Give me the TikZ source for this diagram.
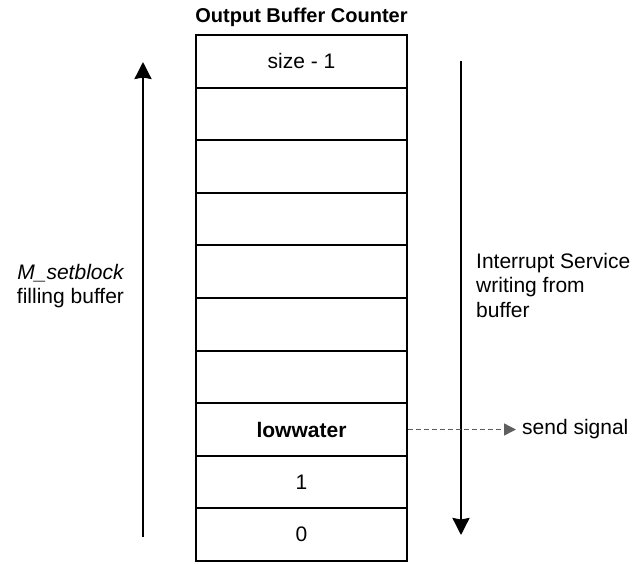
\documentclass[tikz,border=0pt]{standalone}
\usepackage{fontspec}
\setmainfont{Liberation Sans}
\usetikzlibrary{arrows.meta}
\definecolor{sigcol}{HTML}{5F5F5F}
\tikzset{
  cell/.style={draw, line width=2pt, minimum width=211pt, minimum height=52.6pt, inner sep=0pt, font=\fontsize{21}{25}\selectfont},
  lbl/.style={inner sep=0pt, font=\fontsize{21}{24.5}\selectfont},
  bigarrow/.style={line width=2.4pt, -{Stealth[width=17pt,length=17pt,inset=1.5pt]}},
  sigarrow/.style={draw=sigcol, line width=1.4pt, dash pattern=on 5pt off 3pt, -{Triangle[width=12pt,length=12pt]}, sigcol}
}
\begin{document}
\begin{tikzpicture}[x=1pt,y=-1pt]
\useasboundingbox (0,0) rectangle (637,563);
\node[lbl, font=\fontsize{20}{24}\selectfont\bfseries] (title) at (301.5,17) {Output Buffer Counter};
\node[cell] (r0) at (301.5,61.3) {size - 1};
\node[cell] (r1) at (301.5,113.9) {};
\node[cell] (r2) at (301.5,166.5) {};
\node[cell] (r3) at (301.5,219.1) {};
\node[cell] (r4) at (301.5,271.7) {};
\node[cell] (r5) at (301.5,324.3) {};
\node[cell] (r6) at (301.5,376.9) {};
\node[cell] (r7) at (301.5,429.5) {\bfseries lowwater};
\node[cell] (r8) at (301.5,482.1) {1};
\node[cell] (r9) at (301.5,534.7) {0};
\coordinate (la1) at (143,537);
\coordinate (la2) at (143,62);
\draw[bigarrow] (la1) -- (la2);
\coordinate (ra1) at (461,61);
\coordinate (ra2) at (461,535);
\draw[bigarrow] (ra1) -- (ra2);
\node[lbl, align=center] (lt) at (70.5,286) {\itshape M\_setblock\\filling buffer};
\node[lbl, align=left, anchor=west] (rt) at (476,285) {Interrupt Service\\writing from\\buffer};
\node[lbl, anchor=west, inner xsep=6pt] (sig) at (516,429.5) {send signal};
\draw[sigarrow] (r7.east) -- (sig.west);
\end{tikzpicture}
\end{document}
